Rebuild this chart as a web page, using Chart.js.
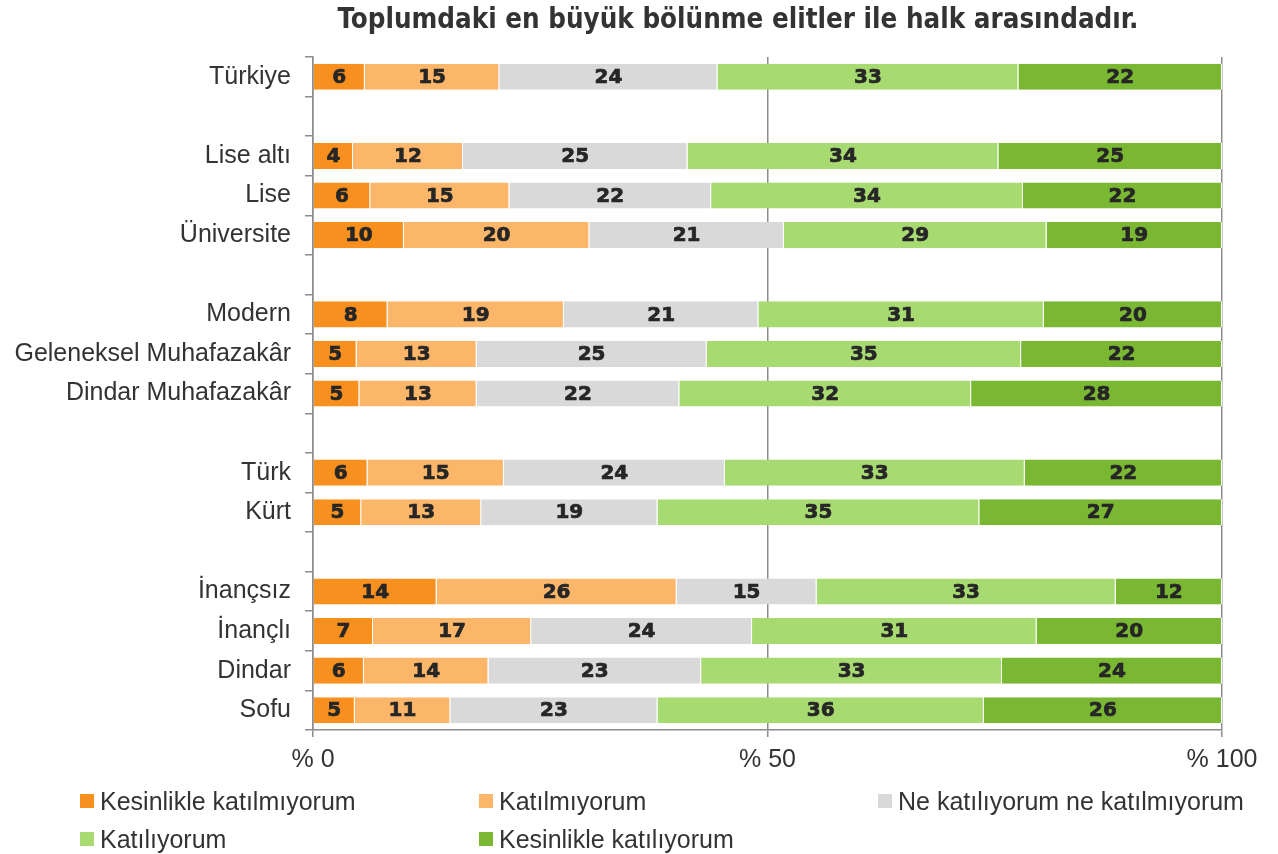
<!DOCTYPE html>
<html lang="tr">
<head>
<meta charset="utf-8">
<title>Toplumdaki en büyük bölünme</title>
<script src="https://cdn.jsdelivr.net/npm/chart.js@4.4.1/dist/chart.umd.min.js"></script>
<style>
    html, body { margin: 0; padding: 0; background: #fff; }
    #wrap { position: relative; width: 1278px; height: 854px; overflow: hidden; }
    #title {
        position: absolute; left: 0; width: 1476px; top: 2px; text-align: center;
        font-family: 'DejaVu Sans Condensed', 'Liberation Sans Narrow', 'DejaVu Sans', sans-serif;
        font-stretch: condensed; font-weight: bold; font-size: 27.5px; color: #333;
        white-space: nowrap;
    }
    .leg { position: absolute; font-family: 'Liberation Sans', Arial, sans-serif; font-size: 25px; color: #333; white-space: nowrap; line-height: 30px; }
    .leg i { position: absolute; left: -20px; top: 8px; width: 14px; height: 14px; }
</style>
</head>
<body>
<div id="wrap">
    <canvas id="chart" width="1278" height="854"></canvas>
    <div id="title">Toplumdaki en büyük bölünme elitler ile halk arasındadır.</div>
    <div id="legend"></div>
</div>
<script>
const categories = ['Türkiye', '', 'Lise altı', 'Lise', 'Üniversite', '', 'Modern', 'Geleneksel Muhafazakâr', 'Dindar Muhafazakâr', '', 'Türk', 'Kürt', '', 'İnançsız', 'İnançlı', 'Dindar', 'Sofu'];
const seriesNames = ['Kesinlikle katılmıyorum', 'Katılmıyorum', 'Ne katılıyorum ne katılmıyorum', 'Katılıyorum', 'Kesinlikle katılıyorum'];
const seriesColors = ['#F7901E', '#FBB66A', '#D9D9D9', '#A8DA72', '#7AB733'];

const kesinlikleKatilmiyorum = [5.7, null, 4.4, 6.3, 10.0, null, 8.2, 4.8, 5.1, null, 6.0, 5.3, null, 13.6, 6.6, 5.6, 4.6];
const katilmiyorum = [14.8, null, 12.1, 15.3, 20.4, null, 19.4, 13.2, 12.9, null, 15.0, 13.2, null, 26.4, 17.4, 13.7, 10.5];
const neKatiliyorum = [24.0, null, 24.7, 22.2, 21.4, null, 21.4, 25.3, 22.3, null, 24.3, 19.4, null, 15.4, 24.3, 23.4, 22.8];
const katiliyorum = [33.1, null, 34.2, 34.3, 28.9, null, 31.4, 34.6, 32.1, null, 33.0, 35.4, null, 32.9, 31.3, 33.1, 35.9];
const kesinlikleKatiliyorum = [22.4, null, 24.6, 21.9, 19.3, null, 19.6, 22.1, 27.6, null, 21.7, 26.7, null, 11.7, 20.4, 24.2, 26.2];

const xTicks = [0, 50, 100];

const allSeries = [kesinlikleKatilmiyorum, katilmiyorum, neKatiliyorum, katiliyorum, kesinlikleKatiliyorum];

// values written in the middle of each segment
const segmentLabels = {
    id: 'segmentLabels',
    afterDatasetsDraw(chart) {
        const ctx = chart.ctx;
        ctx.save();
        ctx.font = "bold 20px 'DejaVu Sans', sans-serif";
        ctx.fillStyle = '#262626';
        ctx.strokeStyle = '#262626';
        ctx.lineWidth = 0.7;
        ctx.textAlign = 'center';
        ctx.textBaseline = 'middle';
        chart.data.datasets.forEach((ds, i) => {
            chart.getDatasetMeta(i).data.forEach((bar, j) => {
                const v = ds.data[j];
                if (v == null) return;
                const p = bar.getCenterPoint();
                ctx.fillText(Math.round(v), p.x, p.y + 1);
                ctx.strokeText(Math.round(v), p.x, p.y + 1);
            });
        });
        ctx.restore();
    }
};

const axisFont = { family: "'Liberation Sans', Arial, sans-serif", size: 25 };

new Chart(document.getElementById('chart'), {
    type: 'bar',
    data: {
        labels: categories,
        datasets: allSeries.map((data, i) => ({
            label: seriesNames[i],
            data: data,
            backgroundColor: seriesColors[i],
            borderColor: '#ffffff',
            borderWidth: { left: 0, right: 1, top: 0, bottom: 0 },
            borderSkipped: false,
            categoryPercentage: 1,
            barPercentage: 0.66
        }))
    },
    options: {
        indexAxis: 'y',
        responsive: false,
        animation: false,
        layout: { padding: { top: 57, right: 56, left: 0, bottom: 0 } },
        scales: {
            x: {
                stacked: true,
                min: 0,
                max: 100,
                afterBuildTicks: (scale) => { scale.ticks = xTicks.map(v => ({ value: v })); },
                afterFit: (scale) => { scale.height = 124; },
                border: { display: true, color: '#8C8C8C', width: 1.5 },
                grid: { color: '#8C8C8C', lineWidth: 1.5, tickLength: 7, drawTicks: true, z: -1 },
                ticks: {
                    padding: 8,
                    color: '#333',
                    font: axisFont,
                    callback: (v) => '% ' + v
                }
            },
            y: {
                stacked: true,
                afterFit: (scale) => { scale.width = 313; },
                border: { display: true, color: '#8C8C8C', width: 1.5 },
                grid: { offset: true, drawOnChartArea: false, drawTicks: true, tickLength: 8, color: '#8C8C8C', lineWidth: 1.5 },
                ticks: { padding: 14, color: '#333', font: axisFont, autoSkip: false }
            }
        },
        plugins: {
            legend: { display: false },
            tooltip: { enabled: false },
            title: { display: false }
        }
    },
    plugins: [segmentLabels]
});

// legend laid out in three columns like the original
const legendPos = [[100, 786], [499, 786], [898, 786], [100, 824], [499, 824]];
const legendEl = document.getElementById('legend');
seriesNames.forEach((name, i) => {
    const d = document.createElement('div');
    d.className = 'leg';
    d.style.left = legendPos[i][0] + 'px';
    d.style.top = legendPos[i][1] + 'px';
    d.innerHTML = '<i style="background:' + seriesColors[i] + '"></i>' + name;
    legendEl.appendChild(d);
});
</script>
</body>
</html>
